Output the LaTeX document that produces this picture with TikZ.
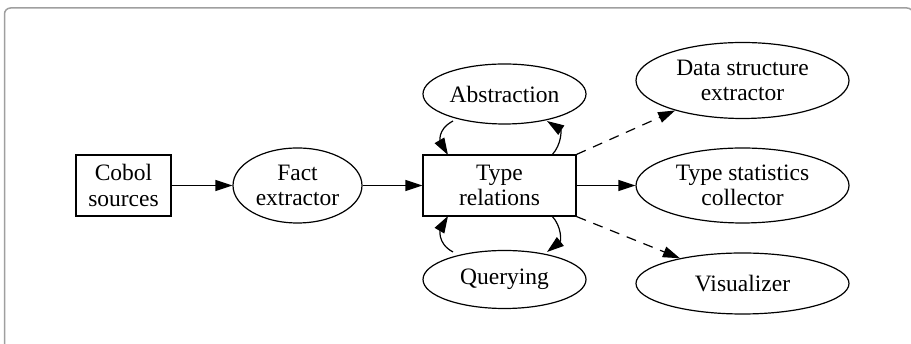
\documentclass[tikz,border=0pt]{standalone}
\usepackage{fontspec}
\setmainfont{Liberation Serif}
\usetikzlibrary{arrows.meta,shapes.geometric}
\begin{document}
\begin{tikzpicture}[x=1pt,y=1pt,
  every node/.style={font=\fontsize{23.5}{25.5}\selectfont, align=center, inner sep=0pt, draw, line width=1.2pt},
  boxnode/.style={rectangle},
  ovalnode/.style={ellipse},
  flow/.style={line width=1.2pt, -{Triangle[length=17pt,width=11pt]}},
  optional/.style={flow, dash pattern=on 10pt off 8pt}
]
\useasboundingbox (0,0) rectangle (911,344);
\begin{scope}
  \clip (0,0) rectangle (911,344);
  \draw[gray!75, line width=1.5pt, rounded corners=6pt] (4.5,-20) rectangle (913,336);
\end{scope}

% pipeline nodes
\node[boxnode, minimum width=95pt, minimum height=61pt] (cobol) at (123.5,158.5) {Cobol\\sources};
\node[ovalnode, minimum width=129pt, minimum height=75pt] (fact) at (297.5,158.5) {Fact\\extractor};
\node[boxnode, minimum width=153pt, minimum height=61pt] (types) at (499.5,158.5) {Type\\relations};
\node[ovalnode, minimum width=163pt, minimum height=60pt] (abs) at (504.5,250) {Abstraction};
\node[ovalnode, minimum width=163pt, minimum height=58pt] (query) at (504.5,64.5) {Querying};
\node[ovalnode, minimum width=213pt, minimum height=76pt] (ds) at (742.5,263.5) {Data structure\\extractor};
\node[ovalnode, minimum width=213pt, minimum height=75pt] (stats) at (742.5,158.5) {Type statistics\\collector};
\node[ovalnode, minimum width=213pt, minimum height=61pt] (vis) at (742.5,60.5) {Visualizer};

% main flow
\draw[flow] (cobol) -- (fact);
\draw[flow] (fact) -- (types);
\draw[flow] (types) -- (stats);
\draw[optional] (types.north east) -- (ds);
\draw[optional] (types.south east) -- (vis);

% loops between the relation store and its clients
\coordinate (absL) at (453,223);
\coordinate (absR) at (547,223);
\coordinate (topL) at (448,189);
\coordinate (topR) at (552,189);
\coordinate (qL) at (453,92);
\coordinate (qR) at (547,92);
\coordinate (botL) at (448,128);
\coordinate (botR) at (552,128);
\draw[flow] (absL) .. controls (436,214) and (441,201) .. (topL);
\draw[flow] (topR) .. controls (562,200) and (561,214) .. (absR);
\draw[flow] (qL) .. controls (436,101) and (441,116) .. (botL);
\draw[flow] (botR) .. controls (562,117) and (561,103) .. (qR);
\end{tikzpicture}
\end{document}
